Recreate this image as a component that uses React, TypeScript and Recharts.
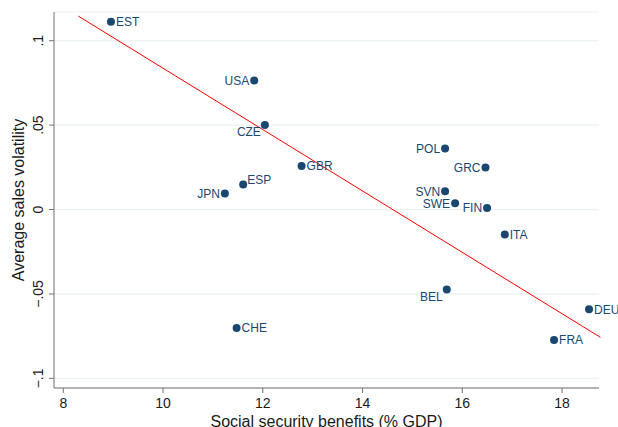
import React from "react";
import {
  ScatterChart,
  Scatter,
  XAxis,
  YAxis,
  CartesianGrid,
  ReferenceLine,
  Label,
} from "recharts";

// ---- data ----
const countries = ["EST", "USA", "CZE", "GBR", "ESP", "JPN", "POL", "GRC", "SVN", "SWE", "FIN", "ITA", "BEL", "DEU", "CHE", "FRA"];
const socialBenefits = [8.956, 11.828, 12.042, 12.778, 11.607, 11.24, 15.655, 16.465, 15.655, 15.856, 16.497, 16.852, 15.689, 18.541, 11.475, 17.84];
const salesVolatility = [0.1112, 0.0765, 0.05, 0.0258, 0.0148, 0.0095, 0.0362, 0.0249, 0.0108, 0.0037, 0.0009, -0.0148, -0.0474, -0.0591, -0.0702, -0.0773];

const fitX = [8.3, 18.77];
const fitY = [0.1146, -0.0757];

const xTicks = [8, 10, 12, 14, 16, 18];
const xTickLabels = ["8", "10", "12", "14", "16", "18"];
const yTicks = [-0.1, -0.05, 0, 0.05, 0.1];
const yTickLabels = ["\u2212.1", "\u2212.05", "0", ".05", ".1"];

const xTitle = "Social security benefits (% GDP)";
const yTitle = "Average sales volatility";

// label placement (style, kept separate from data)
const labelPlacement: Record<string, string> = {
  EST: "right", USA: "left", CZE: "downleft", GBR: "right", ESP: "upright", JPN: "left",
  POL: "left", GRC: "left", SVN: "left", SWE: "left", FIN: "left", ITA: "right",
  BEL: "downleft", DEU: "right", CHE: "right", FRA: "right",
};

const points = countries.map((c, i) => ({ name: c, x: socialBenefits[i], y: salesVolatility[i] }));

const NAVY = "#1a476f";
const FONT = "'Liberation Sans', Arial, sans-serif";
const AXIS = "#707070";

const PointShape = (props: any) => {
  const { cx, cy, payload } = props;
  const pos = labelPlacement[payload.name] || "right";
  let dx = 5, dy = 0, anchor: any = "start";
  if (pos === "left") { dx = -5; anchor = "end"; }
  if (pos === "upright") { dx = 4; dy = -5; anchor = "start"; }
  if (pos === "downleft") { dx = -4; dy = 7; anchor = "end"; }
  return (
    <g>
      <circle cx={cx} cy={cy} r={4} fill={NAVY} />
      <text x={cx + dx} y={cy + dy} dy="0.36em" textAnchor={anchor} fontSize={12} fontFamily={FONT} fill={NAVY}>
        {payload.name}
      </text>
    </g>
  );
};

const XTick = (props: any) => {
  const { x, y, payload } = props;
  const idx = xTicks.indexOf(payload.value);
  return (
    <text x={x} y={y} dy={13} textAnchor="middle" fontSize={14} fontFamily={FONT} fill="#1a1a1a">
      {idx >= 0 ? xTickLabels[idx] : payload.value}
    </text>
  );
};

const YTick = (props: any) => {
  const { x, y, payload } = props;
  const idx = yTicks.findIndex((t) => Math.abs(t - payload.value) < 1e-9);
  const tx = x - 3.5;
  return (
    <text x={tx} y={y} transform={`rotate(-90 ${tx} ${y})`} textAnchor="middle" fontSize={14} fontFamily={FONT} fill="#1a1a1a">
      {idx >= 0 ? yTickLabels[idx] : payload.value}
    </text>
  );
};

export default function App() {
  return (
    <div style={{ position: "absolute", left: 0, top: 0, background: "#fff" }}>
      <ScatterChart width={618} height={427} margin={{ top: 12, right: 19, left: 0, bottom: 0 }}>
        <CartesianGrid horizontal vertical={false} stroke="#eaf2f3" strokeWidth={1.2} />
        <XAxis
          type="number"
          dataKey="x"
          domain={[7.814, 18.741]}
          ticks={xTicks}
          height={39}
          tickSize={5}
          stroke={AXIS}
          axisLine={{ stroke: AXIS }}
          tickLine={{ stroke: AXIS }}
          tick={<XTick />}
        >
          <Label
            content={(p: any) => {
              const vb = p.viewBox || {};
              return (
                <text x={vb.x + vb.width / 2} y={427} textAnchor="middle" fontSize={16} fontFamily={FONT} fill="#1a1a1a">
                  {xTitle}
                </text>
              );
            }}
          />
        </XAxis>
        <YAxis
          type="number"
          dataKey="y"
          domain={[-0.1057, 0.117]}
          ticks={yTicks}
          width={54}
          tickSize={5}
          stroke={AXIS}
          axisLine={{ stroke: AXIS }}
          tickLine={{ stroke: AXIS }}
          tick={<YTick />}
        >
          <Label
            content={(p: any) => {
              const vb = p.viewBox || {};
              const cx = 23.5;
              const cy = vb.y + vb.height / 2;
              return (
                <text x={cx} y={cy} transform={`rotate(-90 ${cx} ${cy})`} textAnchor="middle" fontSize={16} fontFamily={FONT} fill="#1a1a1a">
                  {yTitle}
                </text>
              );
            }}
          />
        </YAxis>
        <ReferenceLine
          segment={[{ x: fitX[0], y: fitY[0] }, { x: fitX[1], y: fitY[1] }]}
          stroke="#ff0000"
          strokeWidth={1}
          ifOverflow="visible"
        />
        <Scatter data={points} shape={<PointShape />} isAnimationActive={false} />
      </ScatterChart>
    </div>
  );
}
